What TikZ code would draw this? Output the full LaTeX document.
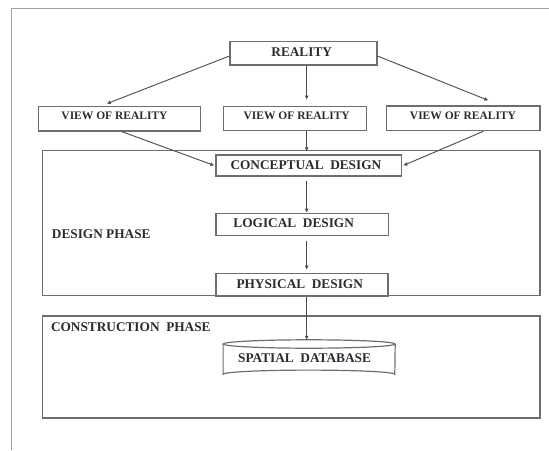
\documentclass[tikz,border=0pt]{standalone}
\usepackage{fontspec}
\setmainfont{Liberation Serif}
\usetikzlibrary{arrows.meta,calc}
\definecolor{txtc}{HTML}{2A2A33}
\definecolor{boxc}{HTML}{6E6E6E}
\definecolor{linec}{HTML}{4A4A4A}
\definecolor{framec}{HTML}{A0A0A0}
\tikzset{
  box/.style={draw=boxc, line width=1.2pt, inner sep=0pt},
  txt/.style={inner sep=0pt, text=txtc, font=\fontsize{13.3}{15}\selectfont\bfseries},
  vtxt/.style={inner sep=0pt, text=txtc, font=\fontsize{11.5}{13}\selectfont\bfseries},
  arr/.style={draw=linec, line width=0.9pt, -{Latex[length=4pt,width=4pt]}},
  plain/.style={draw=linec, line width=0.9pt}
}
\begin{document}
\begin{tikzpicture}[x=1pt,y=-1pt]
\useasboundingbox (0,0) rectangle (549,450);
% outer frame (partial)
\draw[framec, line width=1.5pt] (11.7,450) -- (11.7,8.3) -- (549,8.3);
\coordinate (colx) at (306.7,0);
% phase boxes
\node[box, minimum width=497.5pt, minimum height=144.7pt] (dp) at (291.25,223.15) {};
\node[box, minimum width=497.5pt, minimum height=102pt] (cp) at (291.25,367) {};
\node[txt, anchor=west] (dpt) at (51.7,234) {DESIGN PHASE};
\node[txt, anchor=west] (cpt) at (50.8,327) {CONSTRUCTION\ \ PHASE};
% top boxes
\node[box, minimum width=147pt, minimum height=23.3pt] (real) at (303.5,53.35) {};
\node[txt] (realt) at (301.7,51.7) {REALITY};
\node[box, minimum width=162.4pt, minimum height=24.3pt] (lv) at (119.5,118.85) {};
\node[vtxt] (lvt) at (114.5,115.7) {VIEW OF REALITY};
\node[box, minimum width=143.4pt, minimum height=23.8pt] (mv) at (295,118.6) {};
\node[vtxt] (mvt) at (296.7,115.7) {VIEW OF REALITY};
\node[box, minimum width=153.3pt, minimum height=24.7pt] (rv) at (463.35,118.35) {};
\node[vtxt] (rvt) at (463,115.7) {VIEW OF REALITY};
% design boxes
\node[box, minimum width=185.7pt, minimum height=21pt] (cd) at (308.85,165.5) {};
\node[txt] (cdt) at (305.9,165) {CONCEPTUAL\ \ DESIGN};
\node[box, minimum width=172.3pt, minimum height=22.4pt] (ld) at (302.15,224.5) {};
\node[txt] (ldt) at (293.7,222.7) {LOGICAL\ \ DESIGN};
\node[box, minimum width=172pt, minimum height=22.7pt] (pd) at (302,284.65) {};
\node[txt] (pdt) at (299.7,284) {PHYSICAL\ \ DESIGN};
% database cylinder
\node[inner sep=0pt, minimum width=171.7pt, minimum height=38.3pt] (db) at (309.15,359.15) {};
\draw[boxc, line width=1.2pt]
  (db.north west) ++(0,4.2) coordinate (dbtl)
  (db.north) ++(0,4.2) ellipse [x radius=85.85pt, y radius=4.2pt];
\draw[boxc, line width=1.2pt]
  ($(db.north west)+(0,4.2)$) -- ($(db.south west)+(0,-4.2)$)
  arc[start angle=180, end angle=360, x radius=85.85pt, y radius=-4.2pt]
  -- ($(db.north east)+(0,4.2)$);
\node[txt] (dbt) at (304.5,358.3) {SPATIAL\ \ DATABASE};
% connectors
\draw[arr] ($(real.west)+(0,2.7)$) -- ($(lv.north)+(-12.8,-2.4)$);
\draw[arr] (real.south -| colx) -- ($(mv.north -| colx)+(0,-6.5)$);
\draw[arr] ($(real.east)+(0,2.7)$) -- ($(rv.north)+(25,-5)$);
\draw[arr] ($(lv.south)+(2.2,0)$) -- ($(cd.west)+(-1,0)$);
\draw[arr] (mv.south -| colx) -- ($(cd.north -| colx)+(0,-3)$);
\draw[arr] ($(rv.south)+(20,0)$) -- ($(cd.east)+(1,0)$);
\draw[arr] ($(cd.south -| colx)+(0,4.7)$) -- (ld.north -| colx);
\draw[arr] ($(ld.south -| colx)+(0,4.3)$) -- ($(pd.north -| colx)+(0,-3)$);
\draw[arr] (pd.south -| colx) -- (db.north -| colx);
\end{tikzpicture}
\end{document}
